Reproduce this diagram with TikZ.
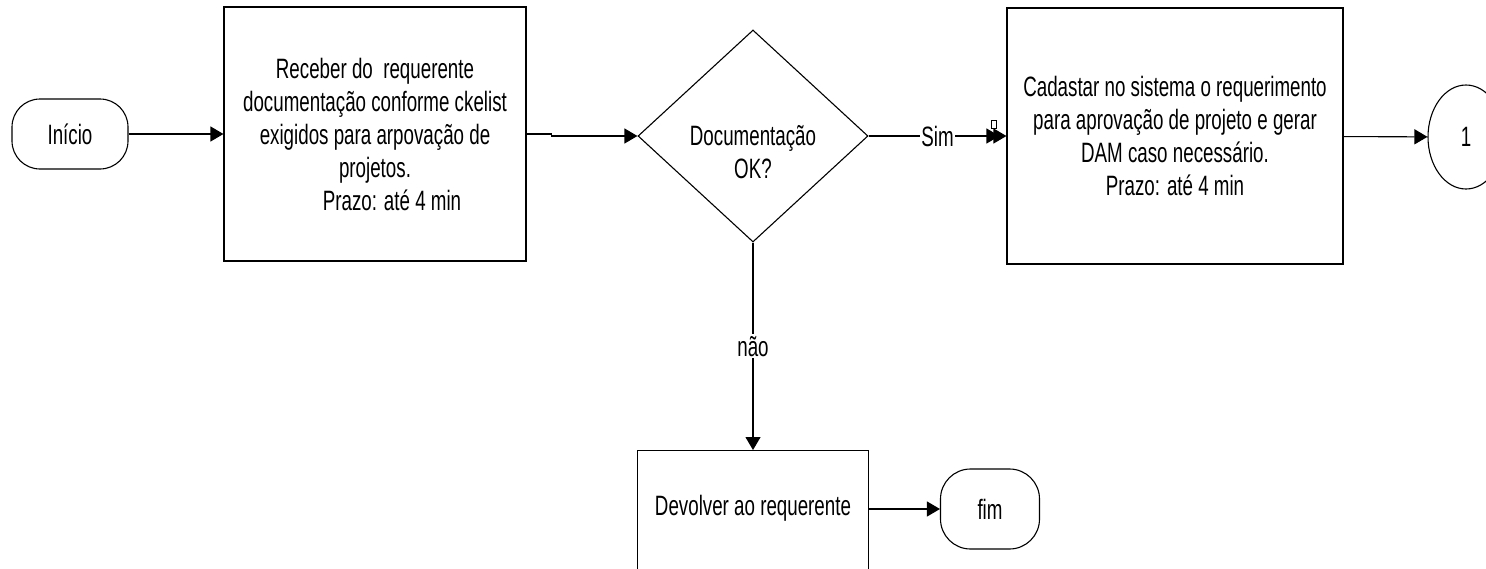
\documentclass[tikz,border=0pt]{standalone}
\usepackage{fontspec}
\setmainfont{Liberation Sans}[FakeStretch=0.67]
\usetikzlibrary{shapes.geometric,arrows.meta}

\begin{document}
\begin{tikzpicture}[x=1pt,y=-1pt,
    every node/.style={font=\fontsize{28}{33}\selectfont},
    box/.style={draw,line width=1.1pt,inner sep=0pt},
    terminal/.style={box,rounded corners=28pt},
    flow/.style={line width=1.1pt,-{Triangle[length=13pt,width=15pt]}},
    flowdup/.style={line width=1.1pt,
      -{Triangle[length=13pt,width=15pt,sep=-6pt]Triangle[length=13pt,width=15pt]}}]
  \useasboundingbox (0,0) rectangle (1486,568);
  \node (inicio) at (70,134) [terminal,minimum width=116,minimum height=70] {Início};
  \node (receber) at (375,134) [box,minimum width=302,minimum height=254,align=center]
    {Receber do\ \ requerente\\documentação conforme ckelist\\exigidos para arpovação de\\projetos.\\\hspace*{34pt}Prazo: até 4 min};
  \node (docok) at (753,136) [box,diamond,minimum width=230,minimum height=212] {};
  \node (docoktxt) at (753,152) [align=center] {Documentação\\OK?};
  \node (cadastrar) at (1175,136) [box,minimum width=336,minimum height=256,align=center]
    {Cadastar no sistema o requerimento\\para aprovação de projeto e gerar\\DAM caso necessário.\\Prazo: até 4 min};
  \node (um) at (1466,137) [box,ellipse,minimum width=76,minimum height=104] {1};
  \node (devolver) at (753,450) [box,anchor=north,minimum width=231,minimum height=150] {};
  \node (devolvertxt) at (753,508) {Devolver ao requerente};
  \node (fim) at (990,509) [terminal,minimum width=99,minimum height=80,rounded corners=30pt] {fim};
  \node (glifo) at (994,124) [draw,line width=0.6pt,minimum width=5,minimum height=8,inner sep=0pt] {};
  \draw[flow] (inicio) -- (receber);
  \draw[flow] (receber.east) -- ++(25,0) |- (docok.west);
  \draw[flowdup] (docok) -- node[fill=white,inner sep=1pt] {Sim} (cadastrar);
  \draw[flow] (cadastrar) -- (um);
  \draw[flow] (docok) -- node[fill=white,inner sep=2pt] {não} (devolver);
  \draw[flow] (devolver.east |- fim) -- (fim);
\end{tikzpicture}
\end{document}
